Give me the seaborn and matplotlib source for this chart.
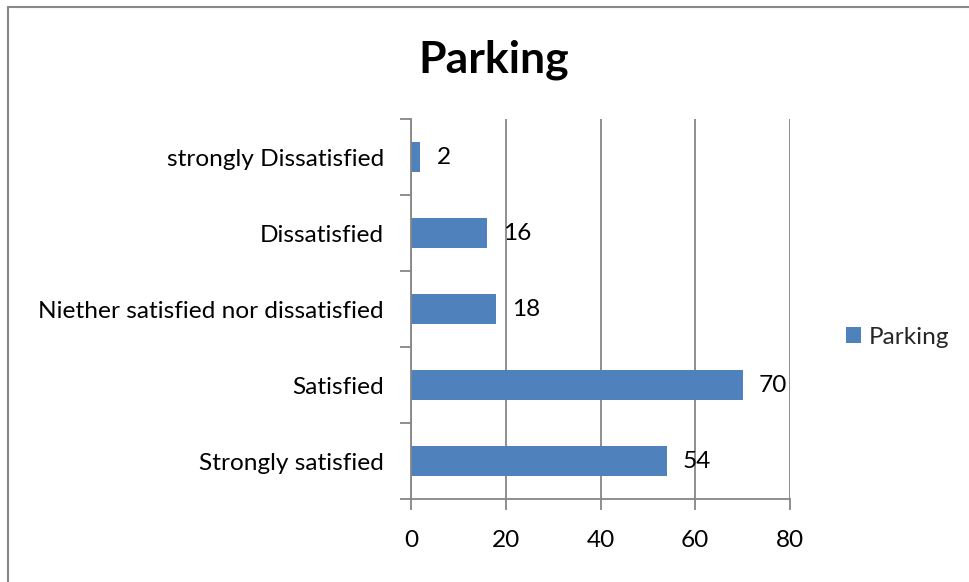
import matplotlib
matplotlib.use("Agg")
import matplotlib.pyplot as plt
from matplotlib.lines import Line2D
from matplotlib.patches import Patch
import seaborn as sns
import pandas as pd

categories = [
    "strongly Dissatisfied",
    "Dissatisfied",
    "Niether satisfied nor dissatisfied",
    "Satisfied",
    "Strongly satisfied",
]
counts = [2, 16, 18, 70, 54]
x_ticks = [0, 20, 40, 60, 80]
series_name = "Parking"
title = "Parking"

bar_color = "#4F81BD"
axis_gray = "#868686"
label_size = 17.6

sns.set_theme(style="white")
plt.rcParams["font.family"] = ["Lato", "DejaVu Sans"]

df = pd.DataFrame({"Response": categories, "Count": counts})

fig = plt.figure(figsize=(9.69, 5.82), dpi=100)
ax = fig.add_axes([411 / 969, 1 - 499 / 582, 379 / 969, 380 / 582])

sns.barplot(data=df, x="Count", y="Response", orient="h", color=bar_color,
            saturation=1, width=0.4, linewidth=0, ax=ax)

ax.set_xlim(0, 80)
ax.set_ylim(len(categories) - 0.5, -0.5)
ax.set_xticks(x_ticks)
ax.set_xticklabels([str(v) for v in x_ticks])
ax.set_xlabel("")
ax.set_ylabel("")

# vertical gridlines
ax.grid(axis="x", color=axis_gray, linewidth=1.3)
ax.grid(axis="y", visible=False)
ax.set_axisbelow(True)

for side in ["top", "right"]:
    ax.spines[side].set_visible(False)
for side in ["left", "bottom"]:
    ax.spines[side].set_color(axis_gray)
    ax.spines[side].set_linewidth(1.3)

# category ticks sit on the boundaries between bars
ax.set_yticks([i - 0.5 for i in range(len(categories) + 1)], minor=True)
ax.tick_params(axis="y", which="major", length=0, pad=19.4, labelsize=label_size, labelcolor="black")
ax.tick_params(axis="y", which="minor", length=8, width=1.3, color=axis_gray, left=True)
ax.tick_params(axis="x", which="major", length=8, width=1.3, color=axis_gray, bottom=True,
               pad=14, labelsize=label_size, labelcolor="black")

# value labels
for i, v in enumerate(counts):
    ax.annotate(str(v), xy=(v, i), xytext=(16, 0), textcoords="offset pixels",
                ha="left", va="center", fontsize=label_size, color="black")

fig.text(494 / 969, 1 - 73 / 582, title, ha="center", va="baseline",
         fontsize=32, fontweight="bold", color="black")

handle = Patch(facecolor=bar_color, edgecolor="none")
fig.legend([handle], [series_name], loc="center left",
           bbox_to_anchor=(846 / 969, 1 - 337 / 582), frameon=False,
           fontsize=label_size, handlelength=0.62, handleheight=0.62, handletextpad=0.3,
           borderpad=0, borderaxespad=0)

# chart border (left and top edges)
fig.add_artist(Line2D([7.5 / 969, 7.5 / 969], [0, 1 - 6.5 / 582], transform=fig.transFigure,
                      color="#878787", linewidth=1.5))
fig.add_artist(Line2D([7.5 / 969, 1], [1 - 6.5 / 582, 1 - 6.5 / 582], transform=fig.transFigure,
                      color="#878787", linewidth=1.5))

fig.savefig("out.png", dpi=100, facecolor="white")
